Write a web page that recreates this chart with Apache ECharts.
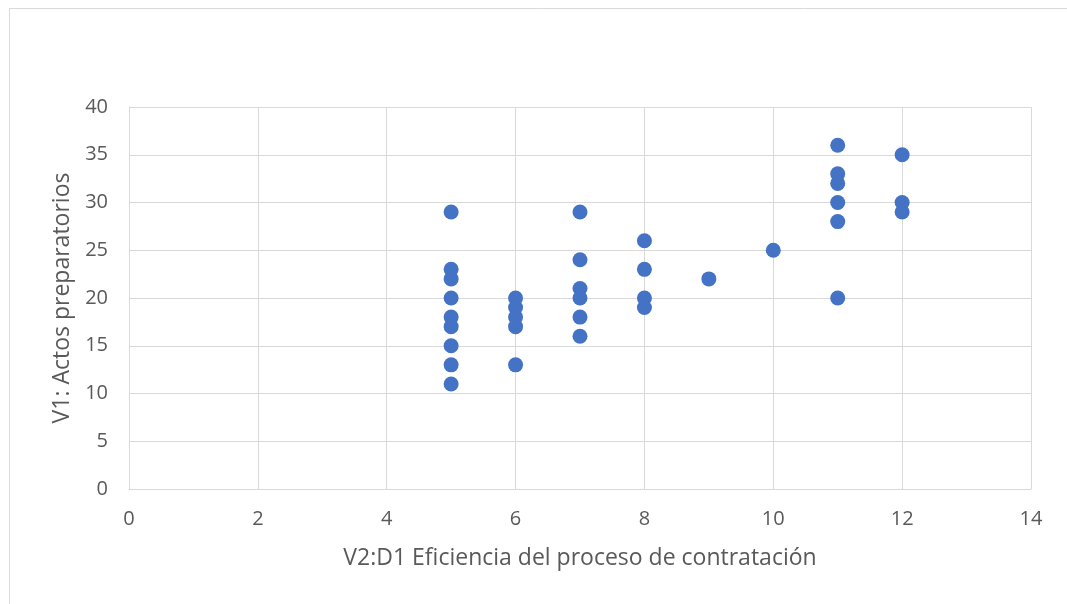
<!DOCTYPE html>
<html>
<head>
<meta charset="utf-8">
<script src="https://cdn.jsdelivr.net/npm/echarts@6/dist/echarts.min.js"></script>
<style>
  html, body { margin: 0; padding: 0; background: #fff; }
  #chart { width: 1067px; height: 604px; }
</style>
</head>
<body>
<div id="chart"></div>
<script>
// V2:D1 values (x) and V1 values (y), one pair per point
const xValues = [5, 5, 5, 5, 5, 5, 5, 5, 5,
  6, 6, 6, 6, 6,
  7, 7, 7, 7, 7, 7,
  8, 8, 8, 8,
  9,
  10,
  11, 11, 11, 11, 11, 11,
  12, 12, 12]
const yValues = [29, 23, 22, 20, 18, 17, 15, 13, 11,
  20, 19, 18, 17, 13,
  29, 24, 21, 20, 18, 16,
  26, 23, 20, 19,
  22,
  25,
  36, 33, 32, 30, 28, 20,
  35, 30, 29]
const xTitle = 'V2:D1 Eficiencia del proceso de contratación'
const yTitle = 'V1: Actos preparatorios'

const points = xValues.map((x, i) => [x, yValues[i]])

const chart = echarts.init(document.getElementById('chart'))
const textStyle = { color: '#595959', fontSize: 20, fontFamily: 'Open Sans' }
const titleStyle = { color: '#595959', fontSize: 23, fontFamily: 'Open Sans' }

chart.setOption({
  animation: false,
  textStyle: textStyle,
  graphic: [
    {
      type: 'rect',
      shape: { x: 9.5, y: 8.5, width: 1080, height: 620 },
      style: { fill: null, stroke: '#d9d9d9', lineWidth: 1 },
      silent: true
    }
  ],
  grid: {
    left: 129,
    right: 36,
    top: 107,
    bottom: 115
  },
  xAxis: {
    type: 'value',
    min: 0,
    max: 14,
    interval: 2,
    name: xTitle,
    nameLocation: 'middle',
    nameGap: 58,
    nameTextStyle: titleStyle,
    axisLine: { show: true, lineStyle: { color: '#d9d9d9', width: 1 } },
    axisTick: { show: false },
    axisLabel: { ...textStyle, margin: 20 },
    splitLine: { show: true, lineStyle: { color: '#d9d9d9', width: 1 } }
  },
  yAxis: {
    type: 'value',
    min: 0,
    max: 40,
    interval: 5,
    name: yTitle,
    nameLocation: 'middle',
    nameGap: 55,
    nameTextStyle: titleStyle,
    axisLine: { show: true, lineStyle: { color: '#d9d9d9', width: 1 } },
    axisTick: { show: false },
    axisLabel: { ...textStyle, margin: 21 },
    splitLine: { show: true, lineStyle: { color: '#d9d9d9', width: 1 } }
  },
  series: [
    {
      type: 'scatter',
      data: points,
      symbol: 'circle',
      symbolSize: 15,
      itemStyle: { color: '#4472c4', opacity: 1 }
    }
  ]
})
</script>
</body>
</html>
